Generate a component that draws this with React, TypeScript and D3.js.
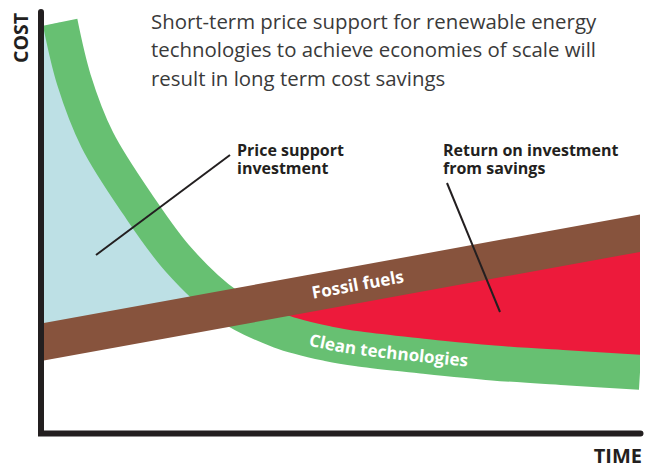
import React from "react";
import * as d3 from "d3";

const W = 653;
const H = 468;

// Clean technologies cost curve (time, cost) on 0-10 scales
const cleanTime = [0.32, 0.55, 0.94, 1.62, 2.3, 3.11, 3.99, 4.82, 5.33, 6.33, 7.55, 8.83, 10];
const cleanCost = [9.79, 8.42, 6.99, 5.44, 4.13, 3.06, 2.44, 2.13, 2.01, 1.85, 1.68, 1.56, 1.46];

// Fossil fuels cost line
const fossilTime = [0, 10];
const fossilCost = [2.17, 4.77];

const titleLines = [
  "Short-term price support for renewable energy",
  "technologies to achieve economies of scale will",
  "result in long term cost savings",
];
const priceLabel = ["Price support", "investment"];
const returnLabel = ["Return on investment", "from savings"];

type P = { t: number; c: number };

export default function App() {
  const x = d3.scaleLinear().domain([0, 10]).range([41, 640]);
  const y = d3.scaleLinear().domain([0, 10]).range([433.5, 13.5]);

  const clean: P[] = cleanTime.map((t, i) => ({ t, c: cleanCost[i] }));
  const fossil: P[] = fossilTime.map((t, i) => ({ t, c: fossilCost[i] }));

  const greenW = 35;
  const brownHalf = 18.75;

  const curve = d3
    .line<P>()
    .x((d) => x(d.t))
    .y((d) => y(d.c))
    .curve(d3.curveCatmullRom.alpha(0.5));
  const greenD = curve(clean) as string;

  const straight = d3
    .line<P>()
    .x((d) => x(d.t))
    .y((d) => y(d.c));
  const fossilD = straight(fossil) as string;

  const brownArea = d3
    .area<P>()
    .x((d) => x(d.t))
    .y0((d) => y(d.c) + brownHalf)
    .y1((d) => y(d.c) - brownHalf);

  // lower-left corner of green band's butt end
  const p0 = { x: x(clean[0].t), y: y(clean[0].c) };
  const p1 = { x: x(clean[1].t), y: y(clean[1].c) };
  const len = Math.hypot(p1.x - p0.x, p1.y - p0.y);
  const dx = (p1.x - p0.x) / len;
  const dy = (p1.y - p0.y) / len;
  const Lx = p0.x - dy * (greenW / 2);
  const Ly = p0.y + dx * (greenW / 2);

  const greenAsL = greenD.replace(/^M/, "L");
  const x0 = x(0);
  const x10 = x(10);
  const yb0 = y(fossil[0].c);
  const yb1 = y(fossil[1].c);

  const bluePath = `M${x0},${Ly}L${Lx},${Ly}${greenAsL}L${x10},${y(0)}L${x0},${y(0)}Z`;
  const redPath = `${greenD}L${x10},0L${x0},0Z`;
  const aboveBrown = `M${x0},0L${x10},0L${x10},${yb1}L${x0},${yb0}Z`;
  const belowBrown = `M${x0},${yb0}L${x10},${yb1}L${x10},${H}L${x0},${H}Z`;

  const axisD = `M${x0},12L${x0},${y(0)}L${x10 + 0.5},${y(0)}`;

  const dark = "#231f20";
  const sans = "'Open Sans', 'Noto Sans', sans-serif";

  return (
    <svg
      width={W}
      height={H}
      viewBox={`0 0 ${W} ${H}`}
      style={{ position: "absolute", left: 0, top: 0, background: "#fff" }}
    >
      <defs>
        <clipPath id="aboveBrown">
          <path d={aboveBrown} />
        </clipPath>
        <clipPath id="belowBrown">
          <path d={belowBrown} />
        </clipPath>
        <clipPath id="plotClip">
          <rect x={0} y={0} width={x10} height={H} />
        </clipPath>
        <path id="greenCenter" d={greenD} />
        <path id="brownCenter" d={fossilD} />
      </defs>

      <path d={bluePath} fill="#bde0e5" clipPath="url(#aboveBrown)" />
      <path d={redPath} fill="#ed1a3b" clipPath="url(#belowBrown)" />

      <g clipPath="url(#plotClip)">
        <path d={greenD} fill="none" stroke="#67c072" strokeWidth={greenW} strokeLinecap="butt" />
      </g>
      <path d={brownArea(fossil) as string} fill="#87533d" />

      <path
        d={axisD}
        fill="none"
        stroke={dark}
        strokeWidth={6}
        strokeLinecap="round"
        strokeLinejoin="miter"
      />

      {/* pointer lines */}
      <line x1={96} y1={255} x2={230} y2={155} stroke={dark} strokeWidth={2} />
      <line x1={447} y1={183} x2={500} y2={312} stroke={dark} strokeWidth={2} />

      {/* band labels */}
      <text fontFamily={sans} fontWeight={700} fontSize={17} fill="#fff" dy={6}>
        <textPath href="#brownCenter" startOffset={322} textAnchor="middle">
          Fossil fuels
        </textPath>
      </text>
      <text fontFamily={sans} fontWeight={700} fontSize={17} fill="#fff" dy={6}>
        <textPath href="#greenCenter" startOffset={505} textAnchor="middle">
          Clean technologies
        </textPath>
      </text>

      {/* title */}
      <text fontFamily={sans} fontSize={20.4} fill="#3a3a3a">
        {titleLines.map((l, i) => (
          <tspan key={i} x={151} y={28.5 + i * 28.7}>
            {l}
          </tspan>
        ))}
      </text>

      <text fontFamily={sans} fontWeight={700} fontSize={16} fill={dark}>
        {priceLabel.map((l, i) => (
          <tspan key={i} x={237} y={156 + i * 18}>
            {l}
          </tspan>
        ))}
      </text>
      <text fontFamily={sans} fontWeight={700} fontSize={16} fill={dark}>
        {returnLabel.map((l, i) => (
          <tspan key={i} x={443} y={156 + i * 18}>
            {l}
          </tspan>
        ))}
      </text>

      <text
        transform="translate(28,38) rotate(-90)"
        textAnchor="middle"
        fontFamily={sans}
        fontWeight={700}
        fontSize={19.5}
        fill={dark}
      >
        COST
      </text>
      <text x={642} y={463} textAnchor="end" fontFamily={sans} fontWeight={700} fontSize={20} fill={dark}>
        TIME
      </text>
    </svg>
  );
}
